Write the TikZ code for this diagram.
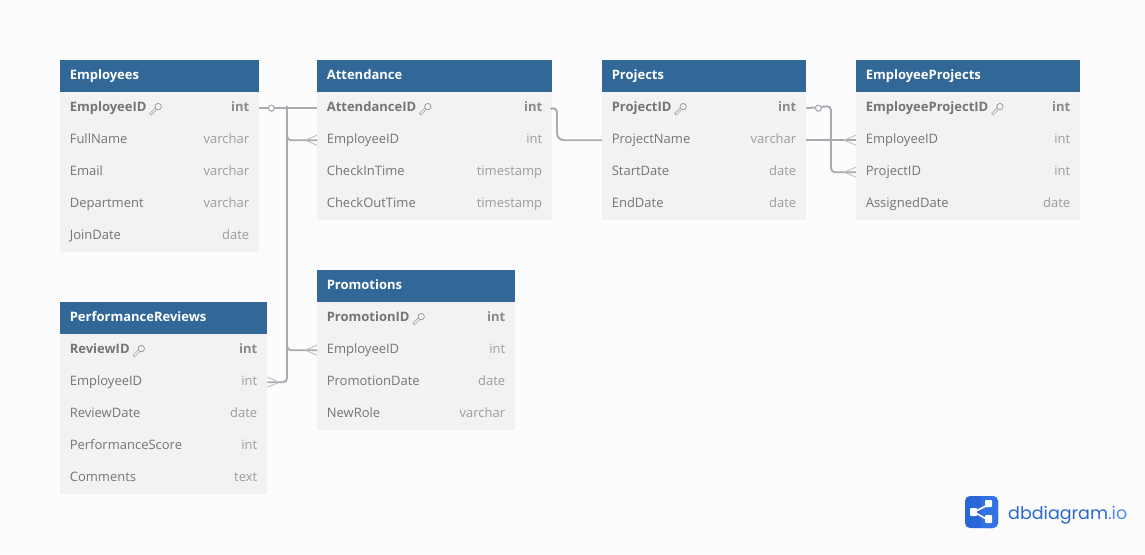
\documentclass[tikz,border=0pt]{standalone}
\usepackage{fontspec}
\setmainfont{Open Sans}
\newfontfamily\logofont{Poppins}
\usetikzlibrary{positioning,calc}
\definecolor{pagebg}{HTML}{FCFCFC}
\definecolor{headblue}{HTML}{316897}
\definecolor{rowgrey}{HTML}{F2F2F2}
\definecolor{namegrey}{HTML}{757575}
\definecolor{typegrey}{HTML}{9C9C9C}
\definecolor{relgrey}{HTML}{A9A9B2}
\definecolor{logoblue}{HTML}{2A66D6}
\definecolor{logomid}{HTML}{3272E2}
\definecolor{logolight}{HTML}{4A8BF0}
\tikzset{
    tblhead/.style={anchor=north west,fill=headblue,minimum height=32pt,inner sep=0pt},
    tblrow/.style={anchor=north west,fill=rowgrey,minimum height=32pt,inner sep=0pt},
    tbltext/.style={inner sep=0pt,text height=10pt,text depth=3pt,font=\fontsize{13}{15}\selectfont},
    headtext/.style={tbltext,text=white,font=\fontsize{13}{15}\selectfont\bfseries},
    nametext/.style={tbltext,text=namegrey},
    typetext/.style={tbltext,text=typegrey},
    pkname/.style={nametext,font=\fontsize{13}{15}\selectfont\bfseries},
    pktype/.style={tbltext,text=namegrey!85,font=\fontsize{13}{15}\selectfont\bfseries},
    rel/.style={draw=relgrey,line width=1.9pt,rounded corners=4pt},
    relthin/.style={draw=relgrey!75,line width=.9pt},
    onedot/.style={circle,draw=relgrey,line width=1.1pt,fill=pagebg,minimum size=6pt,inner sep=0pt},
    dbkey/.pic={
        \draw[namegrey!80,line width=2.6pt] (-5.4,5.4) -- (0,0);
        \draw[rowgrey,line width=1.4pt] (-5,5) -- (0.5,-0.5);
        \draw[namegrey!80,line width=.7pt,fill=rowgrey] (2.4,-2.4) circle (3.2pt);
    }
}
% #1 prefix, #2 x, #3 y, #4 width, #5 title, #6 key field, #7 key type, #8 other fields
\newcommand{\dbtable}[8]{
    \node[tblhead,minimum width=#4pt] (#1) at (#2,#3) {};
    \node[headtext,right=9.6pt of #1.west] (#1-title) {#5};
    \node[tblrow,minimum width=#4pt] (#1-1) at (#2,{#3+32}) {};
    \node[pkname,right=9.6pt of #1-1.west] (#1-1-name) {#6};
    \node[pktype,left=10pt of #1-1.east] (#1-1-type) {#7};
    \pic at ($(#1-1-name.east)+(9,0.8)$) {dbkey};
    \foreach \fname/\ftype [count=\i from 2] in {#8}{
        \node[tblrow,minimum width=#4pt] (#1-\i) at (#2,{#3+32*\i}) {};
        \node[nametext,right=9.6pt of #1-\i.west] (#1-\i-name) {\fname};
        \node[typetext,left=10pt of #1-\i.east] (#1-\i-type) {\ftype};
    }
}
% crow's foot with its three prongs on node anchor #1, #2 = -1 opens to the right, 1 to the left
\newcommand{\crowfoot}[2]{
    \draw[relthin] ($(#1)+(#2*12,0)$) -- ($(#1)+(0,-5)$);
    \draw[relthin] ($(#1)+(#2*12,0)$) -- ($(#1)+(0,5)$);
}
\begin{document}
\begin{tikzpicture}[x=1pt,y=-1pt]
    \fill[pagebg] (0,0) rectangle (1145,554);
    \useasboundingbox (0,0) rectangle (1145,554);

    \dbtable{emp}{60}{60}{199}{Employees}{EmployeeID}{int}{FullName/varchar,Email/varchar,Department/varchar,JoinDate/date}
    \dbtable{att}{317}{60}{235}{Attendance}{AttendanceID}{int}{EmployeeID/int,CheckInTime/timestamp,CheckOutTime/timestamp}
    \dbtable{proj}{602}{60}{204}{Projects}{ProjectID}{int}{ProjectName/varchar,StartDate/date,EndDate/date}
    \dbtable{emproj}{856}{60}{224}{EmployeeProjects}{EmployeeProjectID}{int}{EmployeeID/int,ProjectID/int,AssignedDate/date}
    \dbtable{promo}{317}{270}{198}{Promotions}{PromotionID}{int}{EmployeeID/int,PromotionDate/date,NewRole/varchar}
    \dbtable{perf}{60}{302}{207}{PerformanceReviews}{ReviewID}{int}{EmployeeID/int,ReviewDate/date,PerformanceScore/int,Comments/text}

    % relations
    \coordinate (busA) at (287,106);
    \coordinate (busB) at (557,106);
    \coordinate (busC) at (831,106);
    \draw[rel] (emp-1.east) -- (att-1.west);
    \draw[rel] (busA) -- (busA |- promo-2.west) -- (promo-2.west);
    \draw[rel] (busA) -- (busA |- att-2.west) -- (att-2.west);
    \draw[rel] (perf-2.east) -- (busA |- perf-2.east) -- (busA);
    \draw[rel,rounded corners=7pt] (att-1.east) -- (busB) -- (busB |- proj-2.west) -- (proj-2.west);
    \draw[rel] (proj-1.east) -- (busC) -- (busC |- emproj-3.west) -- (emproj-3.west);
    \draw[rel] (proj-2.east) -- (emproj-2.west);
    \node[onedot] (empdot) at ($(emp-1.east)+(12,0)$) {};
    \node[onedot] (projdot) at ($(proj-1.east)+(12,0)$) {};
    \crowfoot{att-2.west}{-1}
    \crowfoot{promo-2.west}{-1}
    \crowfoot{emproj-2.west}{-1}
    \crowfoot{emproj-3.west}{-1}
    \crowfoot{perf-2.east}{1}

    % logo
    \fill[logoblue,rounded corners=5pt] (965,496) rectangle (998,528);
    \fill[logomid,rounded corners=5pt] (981,496) rectangle (998,528);
    \fill[logomid] (981,496) rectangle (985,528);
    \draw[white,line width=1.6pt] (988,505) -- (974,512) -- (988,520);
    \fill[white,rounded corners=1pt] (970,508) rectangle (977,516);
    \fill[white,rounded corners=1pt] (985,500) rectangle (992,507);
    \fill[white,rounded corners=1pt] (985,515) rectangle (992,523);
    \node[anchor=base west,inner sep=0pt,font=\logofont\fontsize{17.5}{22}\selectfont,text=logoblue] (logotext) at (1008,519) {dbdiagram\textcolor{logolight}{.io}};
\end{tikzpicture}
\end{document}
